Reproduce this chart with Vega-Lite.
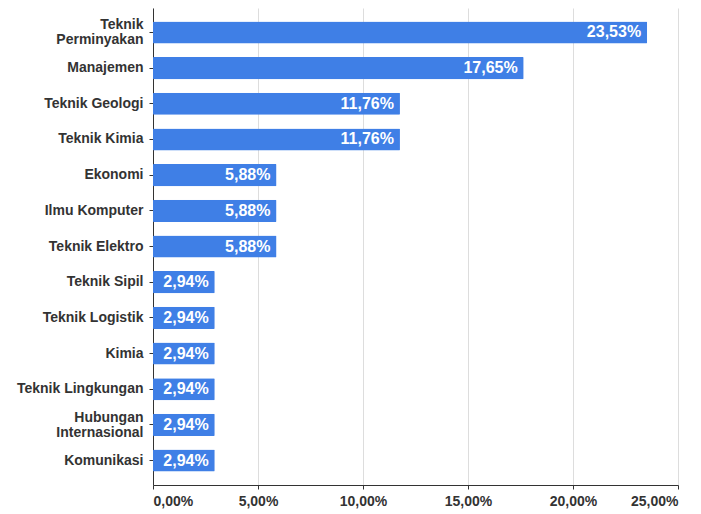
{
  "$schema": "https://vega.github.io/schema/vega-lite/v6.json",
  "width": 525,
  "height": 477,
  "autosize": {"type": "none"},
  "padding": {"left": 153, "top": 8, "right": 23, "bottom": 29},
  "config": {
    "view": {"stroke": null},
    "locale": {"number": {"decimal": ",", "thousands": ".", "grouping": [3], "currency": ["", ""]}},
    "font": "Liberation Sans"
  },
  "data": {
    "values": [
      {"jurusan": "Teknik Perminyakan", "persen": 0.2353},
      {"jurusan": "Manajemen", "persen": 0.1765},
      {"jurusan": "Teknik Geologi", "persen": 0.1176},
      {"jurusan": "Teknik Kimia", "persen": 0.1176},
      {"jurusan": "Ekonomi", "persen": 0.0588},
      {"jurusan": "Ilmu Komputer", "persen": 0.0588},
      {"jurusan": "Teknik Elektro", "persen": 0.0588},
      {"jurusan": "Teknik Sipil", "persen": 0.0294},
      {"jurusan": "Teknik Logistik", "persen": 0.0294},
      {"jurusan": "Kimia", "persen": 0.0294},
      {"jurusan": "Teknik Lingkungan", "persen": 0.0294},
      {"jurusan": "Hubungan Internasional", "persen": 0.0294},
      {"jurusan": "Komunikasi", "persen": 0.0294}
    ]
  },
  "encoding": {
    "y": {
      "field": "jurusan",
      "type": "nominal",
      "sort": null,
      "title": null,
      "scale": {"paddingInner": 0.38, "paddingOuter": 0.375},
      "axis": {
        "domain": true,
        "domainColor": "#333333",
        "ticks": true,
        "tickColor": "#333333",
        "tickSize": 4,
        "labelPadding": 6,
        "labelFontWeight": "bold",
        "labelFontSize": 14,
        "labelColor": "#333333",
        "labelLineHeight": 15,
        "labelOffset": {"condition": {"test": "datum.value == 'Teknik Perminyakan' || datum.value == 'Hubungan Internasional'", "value": -7}, "value": 0},
        "labelExpr": "datum.label == 'Teknik Perminyakan' ? ['Teknik', 'Perminyakan'] : datum.label == 'Hubungan Internasional' ? ['Hubungan', 'Internasional'] : datum.label"
      }
    },
    "x": {
      "field": "persen",
      "type": "quantitative",
      "title": null,
      "scale": {"domain": [0, 0.25], "nice": false},
      "axis": {
        "format": ".2%",
        "values": [0, 0.05, 0.1, 0.15, 0.2, 0.25],
        "grid": true,
        "gridColor": "#dddddd",
        "domainColor": "#333333",
        "tickColor": "#333333",
        "tickSize": 4,
        "labelPadding": 5,
        "labelFontWeight": "bold",
        "labelFontSize": 14,
        "labelColor": "#333333"
      }
    }
  },
  "layer": [
    {"mark": {"type": "bar", "color": "#3f7fe6", "cornerRadius": 1}},
    {
      "mark": {"type": "text", "align": "right", "dx": -6, "color": "white", "fontWeight": "bold", "fontSize": 16, "baseline": "middle"},
      "encoding": {"text": {"field": "persen", "type": "quantitative", "format": ".2%"}}
    }
  ]
}
